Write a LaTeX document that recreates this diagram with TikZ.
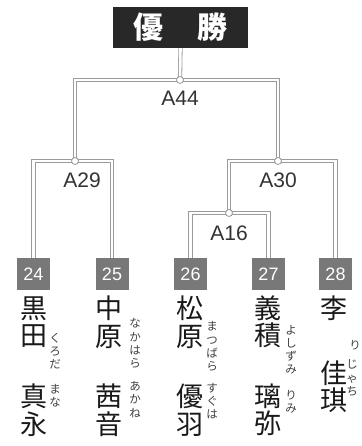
\documentclass[tikz,border=0pt]{standalone}
\usepackage{fontspec}
\setmainfont{Liberation Sans}
\newfontfamily\cjk{Noto Sans CJK JP}
\definecolor{linegray}{HTML}{9A9A9A}
\definecolor{boxgray}{HTML}{787878}
\definecolor{headbg}{HTML}{282828}
\definecolor{labelgray}{HTML}{333333}
\tikzset{
 bline/.style={draw=linegray, line width=0.8pt, double=white, double distance=2.6pt},
 junc/.style={circle, draw=linegray, fill=white, line width=0.8pt, inner sep=0pt, minimum size=7pt},
 numbox/.style={fill=boxgray, minimum width=33pt, minimum height=32pt, inner sep=0pt, text=white, font=\fontsize{18}{18}\selectfont},
 lbl/.style={text=labelgray, font=\fontsize{21}{21}\selectfont, inner sep=0pt},
 big/.style={font=\cjk\fontsize{27}{27.5}\selectfont, align=center, inner sep=0pt, text=black!90},
 ruby/.style={font=\cjk\fontsize{11.5}{13.2}\selectfont, align=center, inner sep=0pt, text=black!75},
}
\begin{document}
\begin{tikzpicture}[x=1pt,y=-1pt]
\useasboundingbox (0,0) rectangle (361,446);
% header
\node[fill=headbg, minimum width=135pt, minimum height=41pt, inner sep=0pt, text=white,
      font=\cjk\bfseries\fontsize{30}{30}\selectfont] (win) at (180.5,27.5) {優\hspace{35pt}勝};
% junctions
\coordinate (j44) at (180,80);
\coordinate (j29) at (75,161);
\coordinate (j30) at (278,161);
\coordinate (j16) at (229,213);
% boxes
\node[numbox] (b24) at (33.5,274) {24};
\node[numbox] (b25) at (112,274) {25};
\node[numbox] (b26) at (190.5,274) {26};
\node[numbox] (b27) at (268.5,274) {27};
\node[numbox] (b28) at (335.5,274) {28};
% brackets
\draw[bline] (win.south) -- (j44);
\draw[bline] (j29) |- (j44) -| (j30);
\draw[bline] (b24.north) |- (j29) -| (b25.north);
\draw[bline] (j16) |- (j30) -| (b28.north);
\draw[bline] (b26.north) |- (j16) -| (b27.north);
% redraw boxes on top
\node[numbox] at (b24) {24};
\node[numbox] at (b25) {25};
\node[numbox] at (b26) {26};
\node[numbox] at (b27) {27};
\node[numbox] at (b28) {28};
% junction circles
\node[junc] (c44) at (j44) {};
\node[junc] (c29) at (j29) {};
\node[junc] (c30) at (j30) {};
\node[junc] (c16) at (j16) {};
% labels
\node[lbl] (l44) at (180,98) {A44};
\node[lbl] (l29) at (82,180) {A29};
\node[lbl] (l30) at (278,180) {A30};
\node[lbl] (l16) at (229,233) {A16};
% names
\node[big] (n24a) at (33.5,322) {黒\\田};
\node[big] (n24b) at (33.5,410) {真\\永};
\node[ruby] (r24a) at (55,351) {く\\ろ\\だ};
\node[ruby] (r24b) at (55,396) {ま\\な};
\node[big] (n25a) at (109,322) {中\\原};
\node[big] (n25b) at (109,410) {茜\\音};
\node[ruby] (r25a) at (135,343.5) {な\\か\\は\\ら};
\node[ruby] (r25b) at (135,399.5) {あ\\か\\ね};
\node[big] (n26a) at (190,322) {松\\原};
\node[big] (n26b) at (190,410) {優\\羽};
\node[ruby] (r26a) at (212,346.5) {ま\\つ\\ば\\ら};
\node[ruby] (r26b) at (212,401) {す\\ぐ\\は};
\node[big] (n27a) at (268,322) {義\\積};
\node[big] (n27b) at (268,410) {璃\\弥};
\node[ruby] (r27a) at (291,350) {よ\\し\\ず\\み};
\node[ruby] (r27b) at (291,401.5) {り\\み};
\node[big] (n28a) at (334,308.5) {李};
\node[big] (n28b) at (334,386.5) {佳\\琪};
\node[ruby] (r28a) at (355,345) {り};
\node[ruby] (r28b) at (352,378) {じ\\ゃ\\ち};
\end{tikzpicture}
\end{document}
